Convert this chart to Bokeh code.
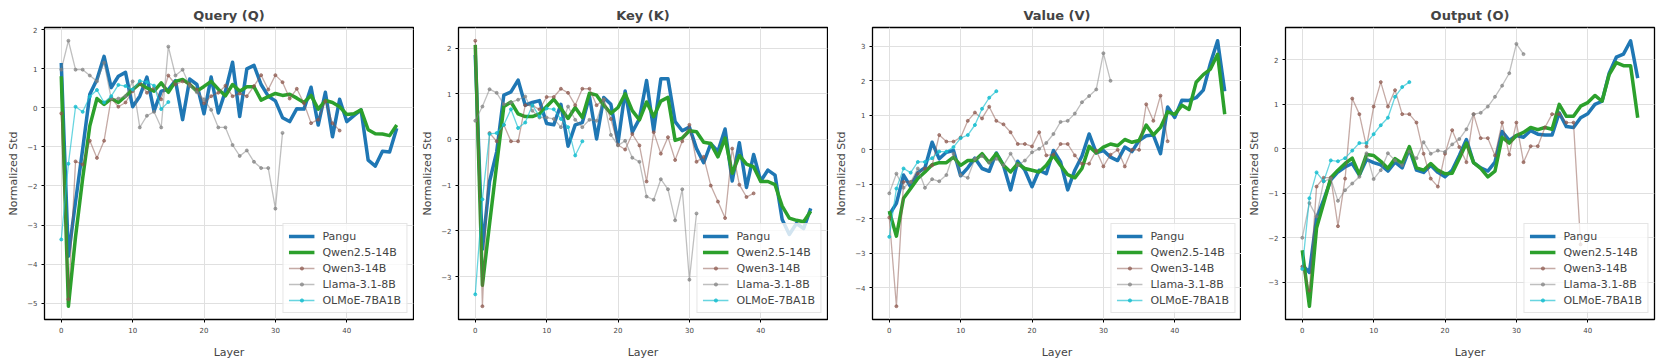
import numpy as np
from bokeh.plotting import figure
from bokeh.layouts import row
from bokeh.models import Range1d, FixedTicker
from bokeh.embed import file_html
from bokeh.resources import INLINE

# ---------------- data ----------------
model_names = ["Pangu", "Qwen2.5-14B", "Qwen3-14B", "Llama-3.1-8B", "OLMoE-7BA1B"]
panel_titles = ["Query (Q)", "Key (K)", "Value (V)", "Output (O)"]
x_ticks = [0, 10, 20, 30, 40]

q_pangu = [1.15, -3.8, -2.4, -1.05, 0.35, 0.73, 1.32, 0.52, 0.81, 0.91, 0.03, 0.3, 0.79, -0.08, 0.43, 0.47,
           0.7, -0.3, 0.74, 0.6, -0.15, 0.79, -0.13, 0.43, 1.17, -0.22, 1.0, 1.09, 0.6, 0.3, 0.18, -0.25,
           -0.35, -0.02, -0.03, 0.53, -0.44, 0.4, -0.74, 0.22, -0.35, -0.2, -0.05, -1.34, -1.49, -1.11, -1.13, -0.52]
q_qwen25 = [0.81, -5.08, -3.3, -1.8, -0.46, 0.24, 0.09, 0.24, 0.14, 0.3, 0.47, 0.62, 0.51, 0.43, 0.64, 0.4,
            0.68, 0.73, 0.6, 0.43, 0.55, 0.68, 0.48, 0.31, 0.6, 0.43, 0.54, 0.54, 0.2, 0.29, 0.37, 0.32,
            0.35, 0.25, 0.14, 0.32, -0.03, 0.19, 0.14, 0.03, -0.17, -0.15, -0.05, -0.56, -0.66, -0.67, -0.71, -0.44]
q_qwen3 = [-0.14, -4.9, -1.37, -1.45, -0.84, -1.28, -0.84, 0.25, 0.03, 0.14, 0.43, 0.64, 0.39, 0.51, 0.22, 0.83,
           0.6, 0.68, 0.6, 0.47, 0.12, 0.3, 0.39, 0.57, 0.3, 0.37, 0.3, 0.56, 0.84, 0.47, 0.84, 0.66,
           0.24, 0.49, 0.12, -0.39, -0.3, 0.17, -0.39, -0.58]
q_llama = [0.98, 1.72, 0.98, 0.98, 0.83, 0.68, 1.16, 0.24, 0.24, 0.3, 0.68, -0.5, -0.2, -0.1, -0.5, 1.57,
           0.83, 0.98, 0.56, 0.4, 0.22, -0.05, -0.5, -0.5, -0.95, -1.23, -1.09, -1.38, -1.54, -1.54, -2.58, -0.64]
q_olmoe = [-3.37, -1.43, 0.03, -0.1, 0.29, 0.46, 0.14, 0.3, 0.59, 0.56, 0.47, 0.69, 0.66, 0.57, -0.03, 0.15]

k_pangu = [1.85, -2.4, -0.92, -0.27, 0.97, 1.04, 1.3, 0.75, 0.81, 0.85, 0.35, 0.32, 0.77, -0.15, 0.32, 0.37,
           0.94, 0.01, 0.92, 0.77, -0.07, 1.06, 0.16, 0.45, 1.29, 0.19, 1.33, 1.33, 0.39, 0.19, 0.27, -0.2,
           -0.51, -0.09, -0.26, 0.23, -0.91, -0.07, -1.05, -0.33, -0.91, -0.67, -0.78, -1.75, -2.08, -1.84, -1.95, -1.51]
k_qwen25 = [2.07, -3.19, -1.85, -0.55, 0.72, 0.82, 0.56, 0.5, 0.5, 0.56, 0.72, 0.88, 0.68, 0.46, 0.7, 0.48,
            1.01, 0.97, 0.75, 0.57, 0.7, 1.0, 0.63, 0.43, 0.82, 0.5, 0.84, 0.92, -0.02, 0.03, 0.19, 0.17,
            -0.06, -0.09, -0.38, 0.03, -0.74, -0.35, -0.54, -0.6, -0.92, -0.92, -0.99, -1.46, -1.72, -1.77, -1.8, -1.57]
k_qwen3 = [2.16, -3.65, 0.14, -0.04, 0.32, -0.04, -0.04, 0.75, 0.74, 0.66, 0.93, 0.93, 1.11, 1.02, 0.75, 1.11,
           1.11, 0.75, 0.87, 0.45, -0.12, -0.22, 0.12, -0.13, -0.92, 0.16, -0.31, 0.05, -0.45, -0.04, 0.32, -0.49,
           -0.38, -1.01, -1.36, -1.72, -0.2, -0.99, -1.26, -1.18]
k_llama = [0.41, 0.72, 1.1, 1.02, 0.77, 0.81, 0.87, 0.94, 0.63, 0.48, 0.48, 0.45, 0.27, 0.72, 0.43, 0.27,
           0.43, 0.41, 0.88, 0.1, -0.13, -0.03, -0.4, -0.49, -1.25, -1.32, -0.87, -1.09, -1.77, -1.09, -3.07, -1.62]
k_olmoe = [-3.39, -1.31, 0.12, 0.14, 0.32, 0.66, 0.25, 0.37, 0.75, 0.5, 0.68, 0.66, 0.45, 0.27, -0.35, -0.04]

v_pangu = [-1.88, -1.55, -0.73, -1.07, -0.66, -0.52, 0.22, -0.26, -0.07, -0.02, -0.75, -0.52, -0.24, -0.54, -0.62, -0.09,
           -0.45, -1.16, -0.33, -0.59, -1.07, -0.59, -0.69, -0.02, -0.35, -1.16, -0.59, -0.18, 0.46, -0.09, -0.02, -0.21,
           -0.31, 0.08, -0.05, 0.27, 0.41, 0.43, -0.11, 1.24, 0.94, 1.44, 1.43, 1.51, 1.73, 2.51, 3.16, 1.7]
v_qwen25 = [-1.77, -2.5, -1.4, -1.12, -0.83, -0.64, -0.43, -0.37, -0.37, -0.21, -0.45, -0.31, -0.31, -0.11, -0.37, -0.11,
            -0.45, -0.64, -0.4, -0.54, -0.59, -0.64, -0.45, -0.16, -0.45, -0.72, -0.81, -0.54, 0.1, -0.09, 0.08, 0.17,
            0.12, 0.3, 0.22, 0.27, 0.72, 0.43, 0.65, 1.1, 1.03, 1.29, 1.17, 1.96, 2.18, 2.34, 2.77, 1.03]
v_qwen3 = [-1.96, -4.53, -0.93, -0.93, -0.69, -0.54, -0.45, 0.43, 0.24, 0.24, 0.36, 0.84, 1.08, 0.91, 1.25, 0.84,
           0.74, 0.51, 0.17, 0.17, 0.1, 0.51, -0.16, -0.14, 0.17, 0.17, -0.16, -0.4, -0.4, -0.02, -0.48, -0.14,
           0.0, -0.48, 0.0, 0.0, 1.32, 0.84, 1.57, 0.25]
v_llama = [-1.26, -0.69, -1.1, -0.93, -0.54, -1.1, -0.85, -0.91, -0.73, -0.11, -0.73, -0.81, -0.26, -0.18, -0.37, -0.26,
           -0.45, -0.11, -0.45, -0.31, -0.07, 0.03, 0.2, 0.46, 0.81, 0.84, 1.05, 1.38, 1.56, 1.75, 2.8, 2.0]
v_olmoe = [-2.52, -1.12, -0.54, -0.66, -0.35, -0.35, -0.24, -0.05, -0.05, 0.08, 0.34, 0.43, 0.72, 1.19, 1.51, 1.7]

o_pangu = [-2.61, -2.78, -1.56, -1.15, -0.7, -0.52, -0.41, -0.33, -0.59, -0.24, -0.31, -0.36, -0.5, -0.3, -0.43, 0.0,
           -0.48, -0.53, -0.37, -0.53, -0.63, -0.48, -0.15, 0.21, -0.31, -0.43, -0.5, -0.3, 0.39, 0.19, 0.3, 0.26,
           0.41, 0.33, 0.31, 0.31, 0.81, 0.5, 0.48, 0.7, 0.79, 1.0, 1.07, 1.7, 2.06, 2.13, 2.43, 1.59]
o_qwen25 = [-2.28, -3.54, -1.78, -1.22, -0.65, -0.48, -0.33, -0.21, -0.58, -0.13, -0.15, -0.28, -0.44, -0.22, -0.33, 0.05,
            -0.43, -0.48, -0.33, -0.48, -0.56, -0.55, -0.22, 0.13, -0.31, -0.44, -0.63, -0.5, 0.26, 0.13, 0.3, 0.37,
            0.48, 0.43, 0.48, 0.44, 1.0, 0.73, 0.73, 0.96, 1.04, 1.2, 1.07, 1.67, 1.94, 1.87, 1.87, 0.7]
o_qwen3 = [-2.65, -3.19, -0.85, -0.65, -0.65, -1.74, -0.67, 1.13, 0.78, 0.05, 0.95, 1.5, 0.95, 1.32, 0.78, 0.78,
           0.59, -0.11, -0.67, -0.85, -0.11, 0.42, 0.04, -0.3, 0.78, 0.24, 0.24, -0.15, 0.59, -0.13, 0.59, -0.3,
           0.06, 0.06, 0.48, 0.78, 0.78, 0.59, 0.59, -2.15]
o_llama = [-2.0, -1.22, -1.52, -0.73, -0.67, -1.17, -0.93, -0.78, -0.63, -0.1, -0.68, -0.48, -0.1, -0.26, -0.37, -0.06,
           -0.21, 0.15, -0.11, -0.04, -0.07, 0.1, 0.22, 0.44, 0.78, 0.81, 0.95, 1.17, 1.42, 1.7, 2.36, 2.13]
o_olmoe = [-2.7, -1.11, -0.53, -0.73, -0.26, -0.28, -0.21, -0.04, 0.13, 0.13, 0.33, 0.53, 0.7, 1.17, 1.39, 1.5]

q_yticks = [-5, -4, -3, -2, -1, 0, 1, 2]
k_yticks = [-3, -2, -1, 0, 1, 2]
v_yticks = [-4, -3, -2, -1, 0, 1, 2, 3]
o_yticks = [-3, -2, -1, 0, 1, 2]

panels = [
    (panel_titles[0], [q_pangu, q_qwen25, q_qwen3, q_llama, q_olmoe], q_yticks),
    (panel_titles[1], [k_pangu, k_qwen25, k_qwen3, k_llama, k_olmoe], k_yticks),
    (panel_titles[2], [v_pangu, v_qwen25, v_qwen3, v_llama, v_olmoe], v_yticks),
    (panel_titles[3], [o_pangu, o_qwen25, o_qwen3, o_llama, o_olmoe], o_yticks),
]

# ---------------- styles ----------------
FONT = "DejaVu Sans"
styles = [
    dict(color="#1f77b4", width=3.5, alpha=1.0, marker=False),
    dict(color="#2ca02c", width=3.5, alpha=1.0, marker=False),
    dict(color="#8c564b", width=1.3, alpha=0.5, marker=True),
    dict(color="#7f7f7f", width=1.3, alpha=0.5, marker=True),
    dict(color="#17becf", width=1.3, alpha=0.65, marker=True),
]


def minus(v):
    return ("\u2212" + str(abs(v))) if v < 0 else str(v)


def make_panel(title, series, yticks, width, right_border):
    allv = np.concatenate([np.asarray(s, float) for s in series])
    lo, hi = allv.min(), allv.max()
    pad = 0.05 * (hi - lo)
    nmax = max(len(s) for s in series) - 1
    xpad = 0.05 * nmax
    p = figure(width=width, height=361,
               x_range=Range1d(-xpad, nmax + xpad), y_range=Range1d(lo - pad, hi + pad),
               output_backend="svg", toolbar_location=None,
               min_border_left=44, min_border_right=right_border,
               min_border_top=27, min_border_bottom=38)
    p.title.text = title
    p.title.align = "center"
    p.title.vertical_align = "middle"
    p.title.text_font = FONT
    p.title.text_font_size = "13px"
    p.title.text_font_style = "bold"
    p.title.standoff = 7

    p.outline_line_color = "black"
    p.outline_line_width = 1.3
    p.background_fill_color = "white"

    p.grid.grid_line_color = "#e0e0e0"
    p.grid.grid_line_width = 1

    p.xaxis.ticker = FixedTicker(ticks=x_ticks)
    p.yaxis.ticker = FixedTicker(ticks=yticks)
    p.yaxis.major_label_overrides = {t: minus(t) for t in yticks}
    for ax in (p.xaxis[0], p.yaxis[0]):
        ax.axis_line_color = None
        ax.major_tick_line_color = "black"
        ax.major_tick_out = 3
        ax.major_tick_in = 0
        ax.minor_tick_line_color = None
        ax.major_label_text_font = FONT
        ax.major_label_text_font_size = "7px"
        ax.major_label_standoff = 4
        ax.axis_label_text_font = FONT
        ax.axis_label_text_font_size = "11px"
        ax.axis_label_text_font_style = "normal"
    p.xaxis.axis_label = "Layer"
    p.xaxis.axis_label_standoff = 10
    p.yaxis.axis_label = "Normalized Std"
    p.yaxis.axis_label_standoff = 4

    for name, vals, st in zip(model_names, series, styles):
        xs = list(range(len(vals)))
        p.line(xs, vals, line_color=st["color"], line_width=st["width"], line_alpha=st["alpha"],
               line_join="round", legend_label=name)
        if st["marker"]:
            p.scatter(xs, vals, size=3.0, fill_color=st["color"], line_color=st["color"],
                      fill_alpha=min(1.0, st["alpha"] + 0.15), line_alpha=min(1.0, st["alpha"] + 0.15),
                      legend_label=name)

    lg = p.legend[0]
    lg.location = "bottom_right"
    lg.margin = 6
    lg.padding = 5
    lg.spacing = 2
    lg.glyph_width = 26
    lg.glyph_height = 8
    lg.label_height = 14
    lg.label_standoff = 8
    lg.label_text_font = FONT
    lg.label_text_font_size = "11px"
    lg.border_line_color = "#cccccc"
    lg.border_line_width = 1
    lg.background_fill_color = "white"
    lg.background_fill_alpha = 0.8
    return p


widths = [414, 414, 413, 417]
rights = [1, 1, 0, 4]
figs = []
for (t, s, yt), w, r in zip(panels, widths, rights):
    figs.append(make_panel(t, s, yt, w, r))

layout = row(*figs)
open("out.html", "w").write(file_html(layout, INLINE))
